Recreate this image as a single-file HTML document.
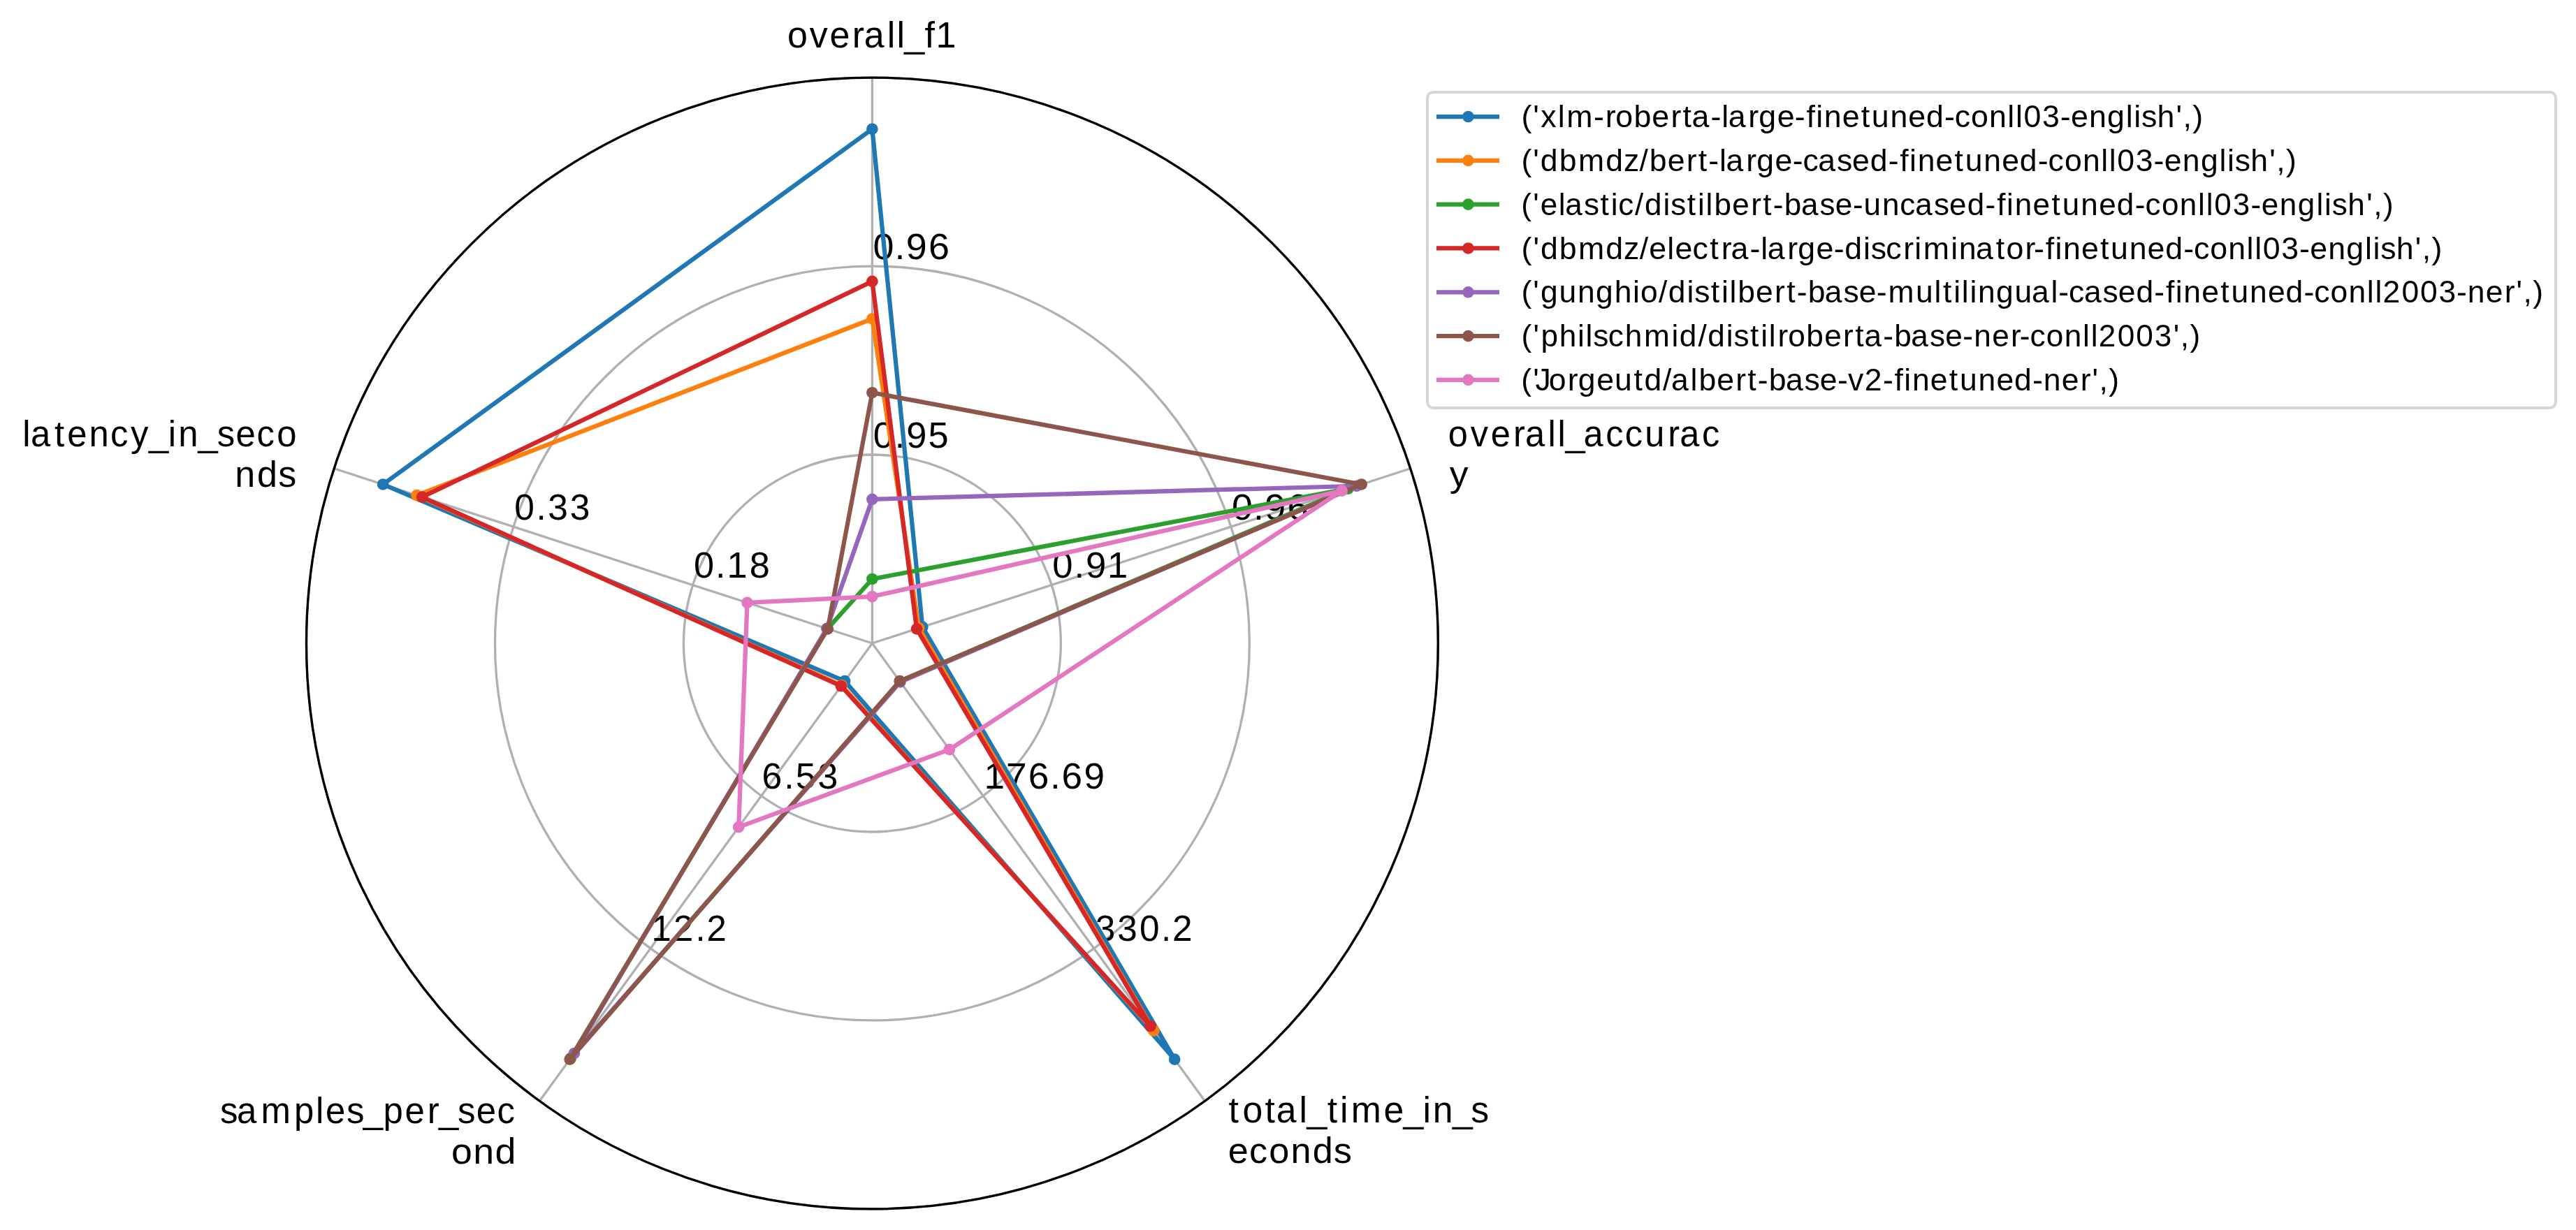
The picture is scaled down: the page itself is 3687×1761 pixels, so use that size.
<!DOCTYPE html><html><head><meta charset="utf-8"><title>Radar chart</title><style>html,body{margin:0;padding:0;background:#fff;overflow:hidden}svg{display:block;will-change:transform}text{font-family:"Liberation Sans",sans-serif}</style></head><body>
<svg width="3687" height="1761" viewBox="0 0 3687 1761">
<rect width="3687" height="1761" fill="#fff"/>
<g fill="none" stroke="#b0b0b0" stroke-width="3.33">
<circle cx="1248.40" cy="921.00" r="269.97"/>
<circle cx="1248.40" cy="921.00" r="539.93"/>
<circle cx="1248.40" cy="921.00" r="809.90"/>
<line x1="1248.40" y1="921.00" x2="1248.40" y2="111.10"/>
<line x1="1248.40" y1="921.00" x2="2018.66" y2="670.73"/>
<line x1="1248.40" y1="921.00" x2="1724.45" y2="1576.22"/>
<line x1="1248.40" y1="921.00" x2="772.35" y2="1576.22"/>
<line x1="1248.40" y1="921.00" x2="478.14" y2="670.73"/>
</g>
<text transform="translate(0,640.63) scale(1.0076,1)" x="1240.25 1271.22 1287.51 1318.43" y="0" font-size="52.0" fill="#000">0.95</text>
<text transform="translate(0,370.67) scale(1.0365,1)" x="1205.57 1235.53 1251.16 1282.15" y="0" font-size="52.0" fill="#000">0.96</text>
<text transform="translate(0,827.18) scale(1.0124,1)" x="1487.87 1518.67 1534.85 1565.67" y="0" font-size="52.0" fill="#000">0.91</text>
<text transform="translate(0,743.75) scale(1.0365,1)" x="1700.98 1730.95 1746.58 1777.57" y="0" font-size="52.0" fill="#000">0.96</text>
<text transform="translate(0,1129.01) scale(1.0225,1)" x="1377.58 1408.27 1439.48 1470.03 1486.13 1517.38" y="0" font-size="52.0" fill="#000">176.69</text>
<text transform="translate(0,1347.42) scale(0.9872,1)" x="1587.97 1620.02 1652.18 1683.56 1699.71" y="0" font-size="52.0" fill="#000">330.2</text>
<text transform="translate(0,1129.01) scale(0.9955,1)" x="1095.46 1127.28 1143.82 1175.76" y="0" font-size="52.0" fill="#000">6.53</text>
<text transform="translate(0,1347.42) scale(0.9785,1)" x="953.12 985.09 1017.36 1033.82" y="0" font-size="52.0" fill="#000">12.2</text>
<text transform="translate(0,827.18) scale(1.0055,1)" x="987.46 1018.51 1034.75 1066.88" y="0" font-size="52.0" fill="#000">0.18</text>
<text transform="translate(0,743.75) scale(0.9902,1)" x="743.44 775.04 791.97 823.89" y="0" font-size="52.0" fill="#000">0.33</text>
<text transform="translate(0,67.70) scale(0.9967,1)" x="1130.64 1162.54 1191.45 1223.90 1240.89 1273.84 1287.78 1298.66 1327.85 1344.07" y="0" font-size="52.25" fill="#000">overall_f1</text>
<text transform="translate(0,639.30) scale(0.9682,1)" x="2140.87 2174.02 2203.82 2237.10 2254.76 2288.38 2302.73 2314.19 2340.91 2373.71 2402.10 2431.68 2465.64 2483.30 2516.00" y="0" font-size="52.25" fill="#000">overall_accurac</text>
<text transform="translate(0,695.70) scale(1.0276,1)" x="2019.04" y="0" font-size="52.25" fill="#000">y</text>
<text transform="translate(0,1606.90) scale(0.9905,1)" x="1775.31 1795.46 1827.93 1844.26 1877.35 1888.36 1917.92 1936.44 1952.19 1999.50 2027.65 2055.93 2070.30 2098.91 2125.56" y="0" font-size="52.25" fill="#000">total_time_in_s</text>
<text transform="translate(0,1665.10) scale(1.0008,1)" x="1756.33 1786.61 1814.77 1845.98 1877.25 1907.29" y="0" font-size="52.25" fill="#000">econds</text>
<text transform="translate(0,1607.50) scale(0.9755,1)" x="322.80 347.45 382.92 431.59 463.36 477.63 508.47 532.91 562.23 594.03 627.08 643.68 671.56 698.96 729.41" y="0" font-size="52.25" fill="#000">samples_per_sec</text>
<text transform="translate(0,1665.70) scale(1.0295,1)" x="627.54 657.74 688.28" y="0" font-size="52.25" fill="#000">ond</text>
<text transform="translate(0,638.90) scale(0.9732,1)" x="33.06 45.33 80.18 99.02 131.11 162.27 192.18 218.87 247.50 262.28 291.40 319.34 346.81 377.51 407.05" y="0" font-size="52.25" fill="#000">latency_in_seco</text>
<text transform="translate(0,697.20) scale(0.9965,1)" x="337.52 369.32 399.54" y="0" font-size="52.25" fill="#000">nds</text>
<path d="M1248.40,184.73 L1320.33,897.63 L1681.17,1516.66 L1209.06,975.15 L548.16,693.48 Z" fill="none" stroke="#1f77b4" stroke-width="6.25" stroke-linejoin="round"/>
<circle cx="1248.40" cy="184.73" r="8.33" fill="#1f77b4"/>
<circle cx="1320.33" cy="897.63" r="8.33" fill="#1f77b4"/>
<circle cx="1681.17" cy="1516.66" r="8.33" fill="#1f77b4"/>
<circle cx="1209.06" cy="975.15" r="8.33" fill="#1f77b4"/>
<circle cx="548.16" cy="693.48" r="8.33" fill="#1f77b4"/>
<path d="M1248.40,456.48 L1315.24,899.28 L1651.27,1475.50 L1204.65,981.22 L596.54,709.20 Z" fill="none" stroke="#ff7f0e" stroke-width="6.25" stroke-linejoin="round"/>
<circle cx="1248.40" cy="456.48" r="8.33" fill="#ff7f0e"/>
<circle cx="1315.24" cy="899.28" r="8.33" fill="#ff7f0e"/>
<circle cx="1651.27" cy="1475.50" r="8.33" fill="#ff7f0e"/>
<circle cx="1204.65" cy="981.22" r="8.33" fill="#ff7f0e"/>
<circle cx="596.54" cy="709.20" r="8.33" fill="#ff7f0e"/>
<path d="M1248.40,828.97 L1929.54,699.68 L1287.94,975.42 L816.81,1515.03 L1184.42,900.21 Z" fill="none" stroke="#2ca02c" stroke-width="6.25" stroke-linejoin="round"/>
<circle cx="1248.40" cy="828.97" r="8.33" fill="#2ca02c"/>
<circle cx="1929.54" cy="699.68" r="8.33" fill="#2ca02c"/>
<circle cx="1287.94" cy="975.42" r="8.33" fill="#2ca02c"/>
<circle cx="816.81" cy="1515.03" r="8.33" fill="#2ca02c"/>
<circle cx="1184.42" cy="900.21" r="8.33" fill="#2ca02c"/>
<path d="M1248.40,402.93 L1312.06,900.32 L1646.55,1469.00 L1203.90,982.24 L604.18,711.68 Z" fill="none" stroke="#d62728" stroke-width="6.25" stroke-linejoin="round"/>
<circle cx="1248.40" cy="402.93" r="8.33" fill="#d62728"/>
<circle cx="1312.06" cy="900.32" r="8.33" fill="#d62728"/>
<circle cx="1646.55" cy="1469.00" r="8.33" fill="#d62728"/>
<circle cx="1203.90" cy="982.24" r="8.33" fill="#d62728"/>
<circle cx="604.18" cy="711.68" r="8.33" fill="#d62728"/>
<path d="M1248.40,714.84 L1941.63,695.75 L1288.61,976.34 L821.92,1507.99 L1183.34,899.86 Z" fill="none" stroke="#9467bd" stroke-width="6.25" stroke-linejoin="round"/>
<circle cx="1248.40" cy="714.84" r="8.33" fill="#9467bd"/>
<circle cx="1941.63" cy="695.75" r="8.33" fill="#9467bd"/>
<circle cx="1288.61" cy="976.34" r="8.33" fill="#9467bd"/>
<circle cx="821.92" cy="1507.99" r="8.33" fill="#9467bd"/>
<circle cx="1183.34" cy="899.86" r="8.33" fill="#9467bd"/>
<path d="M1248.40,562.23 L1948.64,693.48 L1287.74,975.15 L815.63,1516.66 L1184.74,900.32 Z" fill="none" stroke="#8c564b" stroke-width="6.25" stroke-linejoin="round"/>
<circle cx="1248.40" cy="562.23" r="8.33" fill="#8c564b"/>
<circle cx="1948.64" cy="693.48" r="8.33" fill="#8c564b"/>
<circle cx="1287.74" cy="975.15" r="8.33" fill="#8c564b"/>
<circle cx="815.63" cy="1516.66" r="8.33" fill="#8c564b"/>
<circle cx="1184.74" cy="900.32" r="8.33" fill="#8c564b"/>
<path d="M1248.40,854.07 L1920.63,702.58 L1358.95,1073.16 L1057.19,1184.17 L1069.52,862.88 Z" fill="none" stroke="#e377c2" stroke-width="6.25" stroke-linejoin="round"/>
<circle cx="1248.40" cy="854.07" r="8.33" fill="#e377c2"/>
<circle cx="1920.63" cy="702.58" r="8.33" fill="#e377c2"/>
<circle cx="1358.95" cy="1073.16" r="8.33" fill="#e377c2"/>
<circle cx="1057.19" cy="1184.17" r="8.33" fill="#e377c2"/>
<circle cx="1069.52" cy="862.88" r="8.33" fill="#e377c2"/>
<circle cx="1248.40" cy="921.00" r="809.90" fill="none" stroke="#000" stroke-width="3.33"/>
<rect x="2043.00" y="132.00" width="1615.00" height="451.90" rx="8.3" ry="8.3" fill="#fff" stroke="#d6d6d6" stroke-width="4.0"/>
<line x1="2059.1" y1="167.00" x2="2142.9" y2="167.00" stroke="#1f77b4" stroke-width="6.25" stroke-linecap="square"/>
<circle cx="2101.4" cy="167.00" r="8.33" fill="#1f77b4"/>
<text transform="translate(0,182.10) scale(1.0279,1)" x="2118.30 2134.71 2145.43 2169.15 2181.30 2219.07 2235.44 2249.62 2275.07 2300.19 2326.48 2343.06 2355.90 2381.99 2397.32 2406.52 2434.39 2448.99 2474.59 2499.11 2515.24 2528.70 2539.94 2565.20 2591.44 2606.16 2631.97 2657.23 2682.20 2707.42 2721.72 2744.50 2769.77 2795.38 2806.62 2817.84 2843.63 2868.61 2883.58 2908.85 2934.19 2960.14 2971.40 2981.79 3003.66 3029.96 3039.64 3053.05" y="0" font-size="43.5" fill="#000">(&#39;xlm-roberta-large-finetuned-conll03-english&#39;,)</text>
<line x1="2059.1" y1="229.82" x2="2142.9" y2="229.82" stroke="#ff7f0e" stroke-width="6.25" stroke-linecap="square"/>
<circle cx="2101.4" cy="229.82" r="8.33" fill="#ff7f0e"/>
<text transform="translate(0,244.92) scale(1.0238,1)" x="2126.82 2143.30 2153.60 2179.86 2206.38 2244.73 2269.94 2292.07 2306.00 2331.22 2357.59 2374.23 2388.44 2403.82 2413.09 2441.05 2455.73 2481.43 2506.02 2520.40 2541.73 2567.81 2589.46 2614.53 2639.83 2656.02 2669.53 2680.85 2706.21 2732.53 2747.33 2773.25 2798.61 2823.68 2848.99 2863.36 2886.23 2911.60 2937.29 2948.57 2959.86 2985.76 3010.82 3025.87 3051.24 3076.68 3102.71 3114.02 3124.47 3146.43 3172.81 3182.54 3196.02" y="0" font-size="43.5" fill="#000">(&#39;dbmdz/bert-large-cased-finetuned-conll03-english&#39;,)</text>
<line x1="2059.1" y1="292.64" x2="2142.9" y2="292.64" stroke="#2ca02c" stroke-width="6.25" stroke-linecap="square"/>
<circle cx="2101.4" cy="292.64" r="8.33" fill="#2ca02c"/>
<text transform="translate(0,307.74) scale(1.0121,1)" x="2151.35 2168.04 2178.47 2204.00 2213.47 2239.83 2263.02 2278.12 2288.57 2312.11 2325.77 2352.05 2362.68 2385.87 2400.97 2412.37 2424.10 2449.61 2476.25 2493.06 2507.43 2523.29 2547.10 2573.46 2595.37 2620.19 2635.68 2661.90 2686.86 2708.45 2734.81 2756.72 2782.07 2807.62 2823.99 2837.64 2849.17 2874.82 2901.37 2916.42 2942.63 2968.28 2993.64 3019.19 3033.77 3056.91 3082.58 3108.48 3119.89 3131.40 3157.59 3182.88 3198.16 3223.83 3249.55 3275.81 3287.24 3297.88 3320.11 3346.70 3356.57 3370.27" y="0" font-size="43.5" fill="#000">(&#39;elastic/distilbert-base-uncased-finetuned-conll03-english&#39;,)</text>
<line x1="2059.1" y1="355.46" x2="2142.9" y2="355.46" stroke="#d62728" stroke-width="6.25" stroke-linecap="square"/>
<circle cx="2101.4" cy="355.46" r="8.33" fill="#d62728"/>
<text transform="translate(0,370.56) scale(1.0273,1)" x="2119.65 2136.07 2146.31 2172.48 2198.89 2237.13 2262.26 2284.33 2297.63 2322.89 2333.78 2358.01 2382.29 2398.21 2411.78 2437.89 2453.22 2462.44 2490.32 2504.94 2530.55 2555.08 2570.14 2596.13 2606.53 2627.42 2651.75 2667.37 2679.51 2718.05 2729.30 2752.90 2780.73 2795.11 2821.41 2833.70 2849.84 2863.31 2874.57 2899.84 2926.09 2940.83 2966.65 2991.93 3016.91 3042.15 3056.46 3079.25 3104.54 3130.17 3141.41 3152.64 3178.45 3203.44 3218.42 3243.71 3269.06 3295.03 3306.30 3316.69 3338.58 3364.89 3374.58 3388.00" y="0" font-size="43.5" fill="#000">(&#39;dbmdz/electra-large-discriminator-finetuned-conll03-english&#39;,)</text>
<line x1="2059.1" y1="418.28" x2="2142.9" y2="418.28" stroke="#9467bd" stroke-width="6.25" stroke-linecap="square"/>
<circle cx="2101.4" cy="418.28" r="8.33" fill="#9467bd"/>
<text transform="translate(0,433.38) scale(1.0219,1)" x="2130.80 2147.32 2157.65 2183.61 2209.57 2235.06 2261.13 2286.94 2297.77 2323.11 2336.59 2362.68 2373.16 2396.17 2411.14 2422.43 2433.98 2459.25 2485.67 2502.33 2516.56 2532.21 2555.80 2581.93 2603.62 2628.25 2644.64 2683.19 2709.08 2721.39 2736.37 2747.65 2758.98 2770.33 2795.82 2821.77 2845.68 2872.61 2883.19 2897.60 2918.97 2945.10 2966.79 2991.91 3017.25 3033.47 3047.01 3058.36 3083.76 3110.12 3124.96 3150.93 3176.34 3201.45 3226.80 3241.20 3264.12 3289.54 3315.26 3326.57 3337.36 3363.78 3389.67 3415.62 3440.71 3456.18 3481.59 3508.01 3524.29 3534.05 3547.56" y="0" font-size="43.5" fill="#000">(&#39;gunghio/distilbert-base-multilingual-cased-finetuned-conll2003-ner&#39;,)</text>
<line x1="2059.1" y1="481.10" x2="2142.9" y2="481.10" stroke="#8c564b" stroke-width="6.25" stroke-linecap="square"/>
<circle cx="2101.4" cy="481.10" r="8.33" fill="#8c564b"/>
<text transform="translate(0,496.20) scale(1.0150,1)" x="2145.33 2161.97 2172.92 2198.67 2224.61 2235.97 2246.58 2267.74 2291.28 2318.28 2357.12 2368.29 2394.49 2408.10 2434.32 2444.91 2468.05 2483.11 2494.47 2506.95 2521.37 2547.14 2572.58 2599.15 2615.92 2629.01 2655.36 2671.15 2694.90 2721.20 2743.04 2767.81 2783.42 2809.00 2835.57 2848.00 2862.53 2885.60 2911.20 2937.05 2948.43 2959.34 2985.95 3012.01 3038.14 3064.70 3074.53 3088.18" y="0" font-size="43.5" fill="#000">(&#39;philschmid/distilroberta-base-ner-conll2003&#39;,)</text>
<line x1="2059.1" y1="543.92" x2="2142.9" y2="543.92" stroke="#e377c2" stroke-width="6.25" stroke-linecap="square"/>
<circle cx="2101.4" cy="543.92" r="8.33" fill="#e377c2"/>
<text transform="translate(0,559.02) scale(1.0232,1)" x="2127.98 2144.47 2147.56 2166.54 2192.94 2207.63 2233.34 2258.55 2285.43 2300.11 2326.15 2337.84 2364.75 2376.28 2401.51 2427.90 2444.55 2458.76 2474.38 2497.94 2524.04 2545.69 2570.30 2584.96 2608.14 2633.80 2650.00 2663.52 2674.84 2700.22 2726.55 2741.36 2767.29 2792.67 2817.75 2843.07 2858.51 2883.89 2910.28 2926.54 2936.28 2949.77" y="0" font-size="43.5" fill="#000">(&#39;Jorgeutd/albert-base-v2-finetuned-ner&#39;,)</text>
</svg></body></html>
